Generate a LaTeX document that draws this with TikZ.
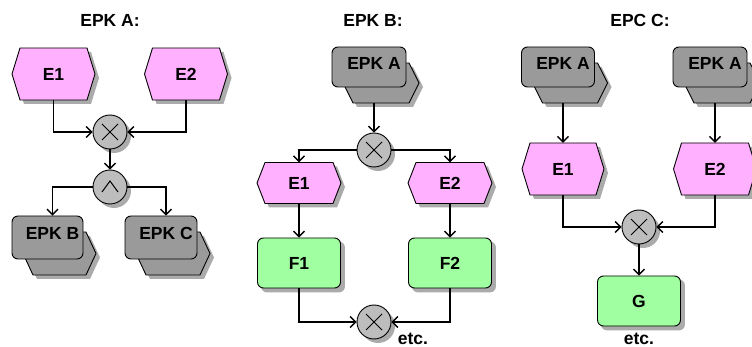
\documentclass[tikz,border=0pt]{standalone}
\usepackage{fontspec}
\setmainfont{Liberation Sans}
\usetikzlibrary{arrows.meta,calc}
\definecolor{evpink}{HTML}{FFB0FF}
\definecolor{fngreen}{HTML}{A0FFA0}
\definecolor{ifgray}{HTML}{9A9A9A}
\definecolor{circgray}{HTML}{BDBDBD}
\definecolor{shadowc}{HTML}{ABABAB}
\pgfdeclarelayer{bg}
\pgfdeclarelayer{mid}
\pgfsetlayers{bg,mid,main}
\newcommand\hexdraw[4]{%
  \path[#1] ({-(#2)},0) -- ({-(#2)+(#4)},{-(#3)}) -- ({(#2)-(#4)},{-(#3)}) -- ({#2},0) -- ({(#2)-(#4)},{#3}) -- ({-(#2)+(#4)},{#3}) -- cycle;}
\newcommand\eventnode[6]{%
  \begin{scope}[shift={(#2,#3)}]
    \begin{pgfonlayer}{bg}\begin{scope}[shift={(4,4)}]\hexdraw{fill=shadowc}{#4}{#5}{8}\end{scope}\end{pgfonlayer}
    \hexdraw{fill=evpink,draw=black,line width=0.9pt}{#4}{#5}{8}
  \end{scope}
  \node[lbl,minimum width=2*#4,minimum height=2*#5] (#1) at (#2,#3) {#6};}
\newcommand\funcnode[4]{%
  \node[fn] (#1) at (#2,#3) {#4};
  \begin{pgfonlayer}{bg}\fill[shadowc,rounded corners=6pt] ($(#1.south west)+(4,4)$) rectangle ($(#1.north east)+(4,4)$);\end{pgfonlayer}}
\newcommand\ifacenode[6]{%
  \begin{scope}[shift={(#2+12,#3+16)}]
    \begin{pgfonlayer}{bg}\begin{scope}[shift={(4,4)}]\hexdraw{fill=shadowc}{#4/2+1}{#5/2}{10}\end{scope}\end{pgfonlayer}
    \begin{pgfonlayer}{mid}\hexdraw{fill=ifgray,draw=black,line width=0.9pt}{#4/2+1}{#5/2}{10}\end{pgfonlayer}
  \end{scope}
  \node[ifc,minimum width=#4,minimum height=#5] (#1) at (#2,#3) {};
  \node[lbl] (#1-t) at ($(#1.center)+(5,-4)$) {#6};
  \coordinate (#1-b) at ($(#1.south)+(5,16)$);}
\newcommand\connshadow[1]{%
  \begin{pgfonlayer}{bg}\fill[shadowc] ($(#1.center)+(4,4)$) circle (17);\end{pgfonlayer}}
\begin{document}
\begin{tikzpicture}[x=1pt,y=-1pt,
  lbl/.style={font=\bfseries\fontsize{17.5}{20}\selectfont, inner sep=0pt},
  fn/.style={lbl, draw=black, line width=0.9pt, rounded corners=6pt, fill=fngreen, minimum width=83pt, minimum height=50pt},
  ifc/.style={draw=black, line width=0.9pt, rounded corners=6pt, fill=ifgray, inner sep=0pt},
  conn/.style={circle, draw=black, line width=0.9pt, fill=circgray, minimum size=34pt, inner sep=0pt},
  xorc/.style={conn, path picture={
     \draw[line width=1pt] ($(path picture bounding box.center)+(-8,-8)$) -- ($(path picture bounding box.center)+(8,8)$);
     \draw[line width=1pt] ($(path picture bounding box.center)+(-8,8)$) -- ($(path picture bounding box.center)+(8,-8)$);}},
  andc/.style={conn, path picture={
     \draw[line width=1pt] ($(path picture bounding box.center)+(-8,5)$) -- ($(path picture bounding box.center)+(0,-6)$) -- ($(path picture bounding box.center)+(8,5)$);}},
  arr/.style={-{Straight Barb[length=5.5pt,width=11pt]}, line width=1.3pt}]
\useasboundingbox (0,0) rectangle (752,347);

% titles
\node[lbl] (ta) at (110,20) {EPK A:};
\node[lbl] (tb) at (373,20) {EPK B:};
\node[lbl] (tc) at (640,20) {EPC C:};

% ---- panel A
\eventnode{e1a}{53.5}{74}{41.5}{26}{E1}
\eventnode{e2a}{186}{74}{41.5}{26}{E2}
\node[xorc] (xa) at (110,132) {};
\connshadow{xa}
\node[andc] (aa) at (110,187) {};
\connshadow{aa}
\ifacenode{pb}{47.5}{237.5}{71}{43}{EPK B}
\ifacenode{pc}{161}{237.5}{72}{43}{EPK C}
\draw[arr] (e1a.south) |- (xa.west);
\draw[arr] (e2a.south) |- (xa.east);
\draw[arr] (xa.south) -- (aa.north);
\draw[arr] (aa.west) -| ([xshift=5pt]pb.north);
\draw[arr] (aa.east) -| ([xshift=5pt]pc.north);

% ---- panel B
\ifacenode{pa1}{369}{67}{74}{40}{EPK A}
\node[xorc] (xb1) at (374,150) {};
\connshadow{xb1}
\eventnode{e1b}{299}{183}{42}{20.5}{E1}
\eventnode{e2b}{450}{183}{42}{20.5}{E2}
\funcnode{f1}{299}{263}{F1}
\funcnode{f2}{450}{263}{F2}
\node[xorc] (xb2) at (374,322) {};
\connshadow{xb2}
\node[lbl] (etcb) at (413,339) {etc.};
\draw[arr] (pa1-b) -- (xb1.north);
\draw[arr] (xb1.west) -| (e1b.north);
\draw[arr] (xb1.east) -| (e2b.north);
\draw[arr] (e1b.south) -- (f1.north);
\draw[arr] (e2b.south) -- (f2.north);
\draw[arr] (f1.south) |- (xb2.west);
\draw[arr] (f2.south) |- (xb2.east);

% ---- panel C
\ifacenode{pa2}{558}{67}{73}{40}{EPK A}
\ifacenode{pa3}{710}{67}{74}{40}{EPK A}
\eventnode{e1c}{563}{169}{41}{26}{E1}
\eventnode{e2c}{715}{169}{41.5}{26}{E2}
\node[xorc] (xc) at (639,227) {};
\connshadow{xc}
\funcnode{g}{639}{301}{G}
\node[lbl] (etcc) at (639,339) {etc.};
\draw[arr] (pa2-b) -- (e1c.north);
\draw[arr] (pa3-b) -- (e2c.north);
\draw[arr] (e1c.south) |- (xc.west);
\draw[arr] (e2c.south) |- (xc.east);
\draw[arr] (xc.south) -- (g.north);
\end{tikzpicture}
\end{document}
